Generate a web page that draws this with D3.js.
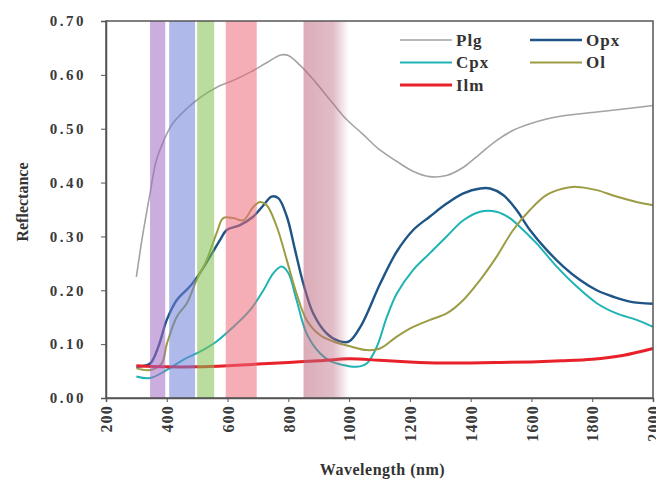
<!DOCTYPE html>
<html>
<head>
<meta charset="utf-8">
<script src="https://cdn.jsdelivr.net/npm/d3@7"></script>
<style>
  body { margin: 0; background: #fff; }
  svg { display: block; }
  text { font-family: "Liberation Serif", "Times New Roman", serif; font-weight: bold; }
</style>
</head>
<body>
<svg id="chart"></svg>
<script>
// spectra: [wavelength nm, reflectance]
const plg = [[300,0.225],[320,0.30],[345,0.38],[365,0.44],[390,0.478],[420,0.51],[465,0.537],[510,0.558],
  [565,0.577],[620,0.590],[675,0.605],[730,0.623],[775,0.637],[800,0.636],[840,0.617],[890,0.586],[945,0.548],
  [990,0.518],[1045,0.49],[1100,0.461],[1155,0.44],[1210,0.421],[1265,0.411],[1320,0.413],[1375,0.428],
  [1430,0.453],[1485,0.478],[1540,0.497],[1595,0.509],[1650,0.518],[1705,0.524],[1815,0.531],[1925,0.538],[2000,0.543]];
const opx = [[300,0.058],[345,0.064],[372,0.095],[400,0.145],[433,0.182],[476,0.207],[509,0.232],[542,0.262],
  [575,0.293],[597,0.312],[641,0.321],[685,0.337],[718,0.358],[745,0.374],[767,0.371],[795,0.337],[822,0.275],
  [849,0.213],[882,0.157],[926,0.120],[965,0.106],[1000,0.105],[1040,0.135],[1102,0.212],[1157,0.272],[1211,0.312],
  [1266,0.337],[1321,0.361],[1376,0.380],[1431,0.389],[1464,0.389],[1507,0.377],[1551,0.349],[1595,0.312],
  [1650,0.275],[1705,0.244],[1760,0.219],[1815,0.200],[1869,0.188],[1924,0.179],[2000,0.175]];
const cpx = [[300,0.040],[345,0.037],[400,0.052],[454,0.071],[509,0.086],[564,0.105],[619,0.132],[674,0.163],
  [718,0.200],[751,0.232],[778,0.244],[800,0.232],[827,0.182],[860,0.120],[904,0.083],[940,0.068],[975,0.062],
  [1025,0.058],[1058,0.064],[1091,0.095],[1124,0.150],[1157,0.194],[1211,0.238],[1266,0.269],[1321,0.300],
  [1376,0.330],[1431,0.346],[1485,0.346],[1529,0.334],[1573,0.312],[1617,0.287],[1683,0.244],[1749,0.207],
  [1815,0.176],[1880,0.157],[1946,0.145],[2000,0.132]];
const ol = [[300,0.055],[345,0.052],[383,0.064],[400,0.100],[433,0.151],[466,0.176],[498,0.219],[531,0.256],
  [564,0.306],[586,0.334],[619,0.334],[652,0.330],[685,0.355],[707,0.364],[729,0.358],[762,0.318],[795,0.256],
  [827,0.194],[860,0.145],[904,0.117],[948,0.105],[1003,0.096],[1058,0.089],[1102,0.092],[1157,0.114],
  [1211,0.132],[1266,0.145],[1321,0.157],[1376,0.182],[1431,0.219],[1485,0.262],[1540,0.312],[1595,0.349],
  [1650,0.377],[1705,0.389],[1749,0.392],[1815,0.386],[1880,0.374],[1946,0.364],[2000,0.358]];
const ilm = [[300,0.060],[400,0.058],[500,0.058],[600,0.060],[700,0.063],[800,0.066],[900,0.069],[1000,0.073],
  [1100,0.070],[1200,0.067],[1300,0.065],[1400,0.065],[1500,0.066],[1600,0.067],[1700,0.069],[1800,0.072],
  [1900,0.079],[2000,0.092]];

const seriesNames = ['Plg', 'Opx', 'Cpx', 'Ol', 'Ilm'];
const seriesData = [plg, opx, cpx, ol, ilm];
const seriesColors = ['#a3a3a3', '#1e5486', '#1fb3b3', '#9c9c45', '#e8212b'];
const seriesWidths = [1.6, 2.4, 2.0, 2.0, 3.0];

// wavelength bands [from, to] shaded on the plot
const bands = [[345, 395], [408, 493], [500, 556], [594, 696], [850, 1000]];
const bandColors = ['#a369c5', '#6e7fd9', '#82c150', '#ec6a7a', '#bc697f'];

const xTicks = d3.range(200, 2001, 200);
const yTicks = d3.range(0, 0.71, 0.1);

const width = 656;
const height = 484;
const margin = { top: 21, right: 3, bottom: 86, left: 106 };

const svg = d3.select('#chart')
  .attr('width', width)
  .attr('height', height);

svg.append('rect').attr('width', width).attr('height', height).attr('fill', '#fff');

const x = d3.scaleLinear().domain([200, 2000]).range([margin.left, width - margin.right]);
const y = d3.scaleLinear().domain([0, 0.7]).range([height - margin.bottom, margin.top]);

const line = d3.line()
  .x((d) => x(d[0]))
  .y((d) => y(d[1]))
  .curve(d3.curveCatmullRom.alpha(0.5));

svg.selectAll('path.spec')
  .data(seriesData)
  .enter()
  .append('path')
  .attr('class', 'spec')
  .attr('d', line)
  .attr('fill', 'none')
  .attr('stroke', (d, i) => seriesColors[i])
  .attr('stroke-width', (d, i) => seriesWidths[i])
  .attr('stroke-linejoin', 'round');

// last band fades out to the right
const grad = svg.append('defs').append('linearGradient')
  .attr('id', 'fade')
  .attr('x1', '0%').attr('x2', '100%');
grad.append('stop').attr('offset', '0%').attr('stop-color', bandColors[4]).attr('stop-opacity', 1);
grad.append('stop').attr('offset', '65%').attr('stop-color', bandColors[4]).attr('stop-opacity', 0.8);
grad.append('stop').attr('offset', '100%').attr('stop-color', bandColors[4]).attr('stop-opacity', 0);

svg.selectAll('rect.band')
  .data(bands)
  .enter()
  .append('rect')
  .attr('class', 'band')
  .attr('x', (d) => x(d[0]))
  .attr('width', (d) => x(d[1]) - x(d[0]))
  .attr('y', y(0.7))
  .attr('height', y(0) - y(0.7))
  .attr('fill', (d, i) => i === 4 ? 'url(#fade)' : bandColors[i])
  .attr('opacity', 0.55);

// frame
svg.append('rect')
  .attr('x', x(200)).attr('y', y(0.7))
  .attr('width', x(2000) - x(200)).attr('height', y(0) - y(0.7))
  .attr('fill', 'none')
  .attr('stroke', '#555')
  .attr('stroke-width', 1.5);

const yAxis = svg.append('g')
  .attr('transform', `translate(${x(200)},0)`)
  .call(d3.axisLeft(y).tickValues(yTicks).tickFormat(d3.format('.2f')).tickSize(5));
yAxis.select('.domain').attr('stroke', '#555').attr('stroke-width', 1.5);
yAxis.selectAll('line').attr('stroke', '#555');
yAxis.selectAll('text')
  .attr('x', -20)
  .style('font-size', '15px')
  .style('letter-spacing', '2.5px')
  .attr('fill', '#3a3a3a');

const xAxis = svg.append('g')
  .attr('transform', `translate(0,${y(0)})`)
  .call(d3.axisBottom(x).tickValues(xTicks).tickFormat(d3.format('d')).tickSize(4));
xAxis.select('.domain').attr('stroke', '#555').attr('stroke-width', 1.5);
xAxis.selectAll('line').attr('stroke', '#555');
xAxis.selectAll('text')
  .attr('transform', 'rotate(-90)')
  .attr('x', -7)
  .attr('y', 0)
  .attr('dy', '0.36em')
  .style('text-anchor', 'end')
  .style('font-size', '16px')
  .style('letter-spacing', '1.2px')
  .attr('fill', '#3a3a3a');

svg.append('text')
  .attr('transform', `translate(28,${202}) rotate(-90)`)
  .attr('text-anchor', 'middle')
  .style('font-size', '16px')
  .attr('fill', '#333')
  .text('Reflectance');

svg.append('text')
  .attr('x', (x(200) + x(2000)) / 2 + 3)
  .attr('y', 475)
  .attr('text-anchor', 'middle')
  .style('font-size', '16px')
  .style('letter-spacing', '0.5px')
  .attr('fill', '#333')
  .text('Wavelength (nm)');

// legend
const legend = svg.append('g');
const legendItems = legend.selectAll('g')
  .data(seriesNames)
  .enter()
  .append('g')
  .attr('transform', (d, i) => {
    const col = (i === 1 || i === 3) ? 1 : 0;
    const row = i === 0 || i === 1 ? 0 : (i === 4 ? 2 : 1);
    return `translate(${400 + col * 130},${40 + row * 22.5})`;
  });
legendItems.append('line')
  .attr('x1', 0).attr('x2', 52)
  .attr('stroke', (d, i) => seriesColors[i])
  .attr('stroke-width', (d, i) => seriesWidths[i]);
legendItems.append('text')
  .attr('x', 56)
  .attr('dy', '0.33em')
  .style('font-size', '17px')
  .style('letter-spacing', '1px')
  .attr('fill', '#333')
  .text((d) => d);
</script>
</body>
</html>
